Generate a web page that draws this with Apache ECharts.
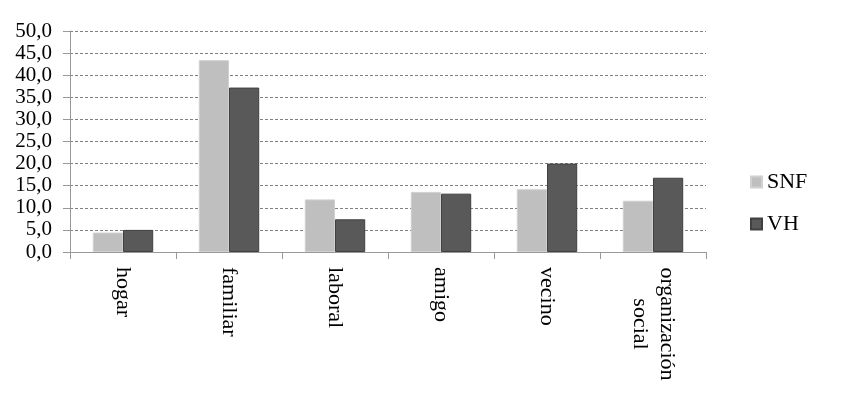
<!DOCTYPE html>
<html>
<head>
<meta charset="utf-8">
<script src="https://cdn.jsdelivr.net/npm/echarts@6/dist/echarts.min.js"></script>
<style>
  html, body { margin: 0; padding: 0; background: #fff; }
  #chart { width: 842px; height: 401px; }
</style>
</head>
<body>
<div id="chart"></div>
<script>
// categorias y valores (porcentajes)
var categories = ['hogar', 'familiar', 'laboral', 'amigo', 'vecino', 'organización\nsocial'];
var snfValues = [4.4, 43.4, 11.9, 13.6, 14.2, 11.6];
var vhValues = [5.0, 37.2, 7.4, 13.2, 20.0, 16.8];
var seriesNames = ['SNF', 'VH'];

var font = '"Liberation Serif", "DejaVu Serif", serif';

var chart = echarts.init(document.getElementById('chart'));
var option = {
    animation: false,
    textStyle: { fontFamily: font, color: '#000' },
    grid: { left: 70, right: 136, top: 31, bottom: 149 },
    legend: {
        orient: 'vertical',
        left: 745,
        top: 166,
        itemWidth: 11,
        itemHeight: 11,
        itemGap: 20,
        icon: 'rect',
        textStyle: { fontFamily: font, fontSize: 22, color: '#000' },
        data: seriesNames
    },
    xAxis: {
        type: 'category',
        data: categories,
        axisLine: { lineStyle: { color: '#999', width: 1 } },
        axisTick: { show: true, length: 7, lineStyle: { color: '#999' } },
        axisLabel: {
            rotate: -90,
            margin: 15,
            fontFamily: font,
            fontSize: 22,
            color: '#000',
            lineHeight: 27,
            // etiquetas de dos lineas centradas entre si
            formatter: function (v) {
                if (v.indexOf('\n') < 0) return v;
                return v.split('\n').map(function (s) { return '{c|' + s + '}'; }).join('\n');
            },
            rich: {
                c: { width: 114, align: 'center', fontFamily: font, fontSize: 22, lineHeight: 27, color: '#000' }
            }
        }
    },
    yAxis: {
        type: 'value',
        min: 0,
        max: 50,
        interval: 5,
        axisLine: { show: true, lineStyle: { color: '#999', width: 1 } },
        axisTick: { show: true, length: 7, lineStyle: { color: '#999' } },
        axisLabel: {
            margin: 18,
            fontFamily: font,
            fontSize: 21,
            color: '#000',
            formatter: function (v) { return v.toFixed(1).replace('.', ','); }
        },
        splitLine: { show: true, lineStyle: { color: '#808080', type: [3, 2], width: 1 } }
    },
    series: [
        {
            name: seriesNames[0],
            type: 'bar',
            data: snfValues,
            barGap: '0%',
            barCategoryGap: '43%',
            itemStyle: { color: '#bfbfbf', borderColor: '#d0d0d0', borderWidth: 1 }
        },
        {
            name: seriesNames[1],
            type: 'bar',
            data: vhValues,
            itemStyle: { color: '#595959', borderColor: '#404040', borderWidth: 1 }
        }
    ]
};
chart.setOption(option);
window.onresize = chart.resize;
</script>
</body>
</html>
